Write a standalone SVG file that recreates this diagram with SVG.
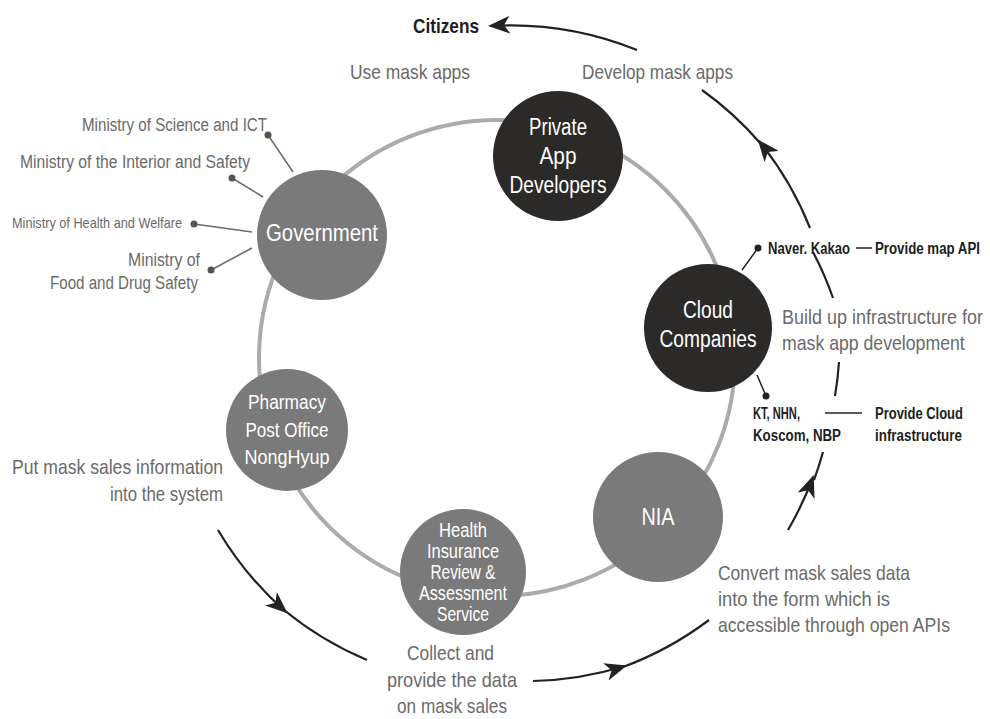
<svg xmlns="http://www.w3.org/2000/svg" width="990" height="719" viewBox="0 0 990 719">
<style>
text{font-family:'Liberation Sans',Arial,sans-serif}
.lbl{fill:#6a6a6a;font-size:21px}
.min{fill:#6a6a6a;font-size:18px}
.blk{fill:#1e1e1e;font-size:16px;font-weight:bold}
.nd{fill:#ffffff;font-size:23px;text-anchor:middle}
.nds{fill:#ffffff;font-size:20px;text-anchor:middle}
.ndh{fill:#ffffff;font-size:19.5px;text-anchor:middle}
.dark{fill:#2b2a29}
.grey{fill:#7a7a7a}
.ring{fill:none;stroke:#ababab;stroke-width:4}
.flow{fill:none;stroke:#222;stroke-width:2.2}
.lead{stroke:#6a6a6a;stroke-width:1.5;fill:none}
.leadk{stroke:#222;stroke-width:1.5;fill:none}
</style>
<defs>
<marker id="ah" viewBox="0 0 22 18" refX="20" refY="9" markerWidth="22" markerHeight="18" markerUnits="userSpaceOnUse" orient="auto">
<path d="M0,0 L22,9 L0,18 L6,9 z" fill="#222"/>
</marker>
</defs>

<circle class="ring" cx="497" cy="358" r="238"/>

<g id="connectors">
<path class="flow" d="M218,530 A336,336 0 0 0 286,612" marker-end="url(#ah)"/>
<path class="flow" d="M284,610 A336,336 0 0 0 367,660"/>
<path class="flow" d="M533,681 A336,336 0 0 0 625,666" marker-end="url(#ah)"/>
<path class="flow" d="M623,667 A336,336 0 0 0 709,620"/>
<path class="flow" d="M788,530 A336,336 0 0 0 813,477" marker-end="url(#ah)"/>
<path class="flow" d="M814,480 A336,336 0 0 0 823,452"/>
<path class="flow" d="M835,396 A336,336 0 0 0 839,362"/>
<path class="flow" d="M833,298 A336,336 0 0 0 813,252"/>
<path class="flow" d="M810,228 A336,336 0 0 0 759,141" marker-end="url(#ah)"/>
<path class="flow" d="M761,144 A336,336 0 0 0 702,90"/>
<path class="flow" d="M637,50 A336,336 0 0 0 490,26" marker-end="url(#ah)"/>
<line class="lead" x1="268" y1="135" x2="293" y2="172"/>
<line class="lead" x1="232" y1="178" x2="263" y2="197"/>
<line class="lead" x1="194" y1="224" x2="252" y2="232"/>
<line class="lead" x1="211" y1="270" x2="252" y2="248"/>
<line class="leadk" x1="758" y1="248" x2="742" y2="270"/>
<line class="leadk" x1="766" y1="396" x2="757" y2="375"/>
<line class="leadk" x1="856" y1="248" x2="872" y2="248"/>
<line class="leadk" x1="825" y1="413" x2="862" y2="413"/>
<circle cx="268" cy="135" r="3.5" fill="#555"/>
<circle cx="232" cy="178" r="3.5" fill="#555"/>
<circle cx="194" cy="224" r="3.5" fill="#555"/>
<circle cx="211" cy="270" r="3.5" fill="#555"/>
<circle cx="758" cy="248" r="3.5" fill="#222"/>
<circle cx="766" cy="396" r="3.5" fill="#222"/>
</g>

<g id="private">
<circle class="dark" cx="558" cy="156" r="65"/>
<text class="nd" x="558" y="135" textLength="58" lengthAdjust="spacingAndGlyphs">Private</text>
<text class="nd" x="558" y="164" textLength="37" lengthAdjust="spacingAndGlyphs">App</text>
<text class="nd" x="558" y="193" textLength="97" lengthAdjust="spacingAndGlyphs">Developers</text>
</g>
<g id="government">
<circle class="grey" cx="322" cy="235" r="65"/>
<text class="nd" x="322" y="241" textLength="112" lengthAdjust="spacingAndGlyphs">Government</text>
</g>
<g id="cloud">
<circle class="dark" cx="708" cy="328" r="64"/>
<text class="nd" x="708" y="318" textLength="50" lengthAdjust="spacingAndGlyphs">Cloud</text>
<text class="nd" x="708" y="347" textLength="97" lengthAdjust="spacingAndGlyphs">Companies</text>
</g>
<g id="pharmacy">
<circle class="grey" cx="287" cy="430" r="61"/>
<text class="nds" x="287" y="409" textLength="78" lengthAdjust="spacingAndGlyphs">Pharmacy</text>
<text class="nds" x="287" y="437" textLength="83" lengthAdjust="spacingAndGlyphs">Post Office</text>
<text class="nds" x="287" y="464" textLength="85" lengthAdjust="spacingAndGlyphs">NongHyup</text>
</g>
<g id="hira">
<circle class="grey" cx="463" cy="572" r="63"/>
<text class="ndh" x="463" y="537" textLength="48" lengthAdjust="spacingAndGlyphs">Health</text>
<text class="ndh" x="463" y="558" textLength="72" lengthAdjust="spacingAndGlyphs">Insurance</text>
<text class="ndh" x="463" y="579" textLength="65" lengthAdjust="spacingAndGlyphs">Review &amp;</text>
<text class="ndh" x="463" y="600" textLength="88" lengthAdjust="spacingAndGlyphs">Assessment</text>
<text class="ndh" x="463" y="621" textLength="52" lengthAdjust="spacingAndGlyphs">Service</text>
</g>
<g id="nia">
<circle class="grey" cx="658" cy="517" r="65"/>
<text class="nd" x="658" y="525" textLength="33" lengthAdjust="spacingAndGlyphs">NIA</text>
</g>

<g id="citizens">
<text x="413" y="33" style="fill:#1e1e1e;font-size:21px;font-weight:bold" textLength="66" lengthAdjust="spacingAndGlyphs">Citizens</text>
</g>
<g id="labels">
<text class="lbl" x="350" y="79" textLength="120" lengthAdjust="spacingAndGlyphs">Use mask apps</text>
<text class="lbl" x="582" y="79" textLength="151" lengthAdjust="spacingAndGlyphs">Develop mask apps</text>
<text class="min" x="82" y="131" textLength="185" lengthAdjust="spacingAndGlyphs">Ministry of Science and ICT</text>
<text class="min" x="20" y="168" textLength="230" lengthAdjust="spacingAndGlyphs">Ministry of the Interior and Safety</text>
<text class="min" x="12" y="228" style="font-size:15px" textLength="170" lengthAdjust="spacingAndGlyphs">Ministry of Health and Welfare</text>
<text class="min" x="128" y="266" textLength="72" lengthAdjust="spacingAndGlyphs">Ministry of</text>
<text class="min" x="50" y="289" textLength="148" lengthAdjust="spacingAndGlyphs">Food and Drug Safety</text>
<text class="blk" transform="translate(768,254) scale(0.82,1)" textLength="100" lengthAdjust="spacingAndGlyphs">Naver. Kakao</text>
<text class="blk" transform="translate(875,254) scale(0.82,1)" textLength="128" lengthAdjust="spacingAndGlyphs">Provide map API</text>
<text class="lbl" transform="translate(782,324) scale(0.85,1)" textLength="236.5" lengthAdjust="spacingAndGlyphs">Build up infrastructure for</text>
<text class="lbl" transform="translate(782,350) scale(0.85,1)" textLength="215" lengthAdjust="spacingAndGlyphs">mask app development</text>
<text class="blk" transform="translate(753,419) scale(0.82,1)" textLength="57.3" lengthAdjust="spacingAndGlyphs">KT, NHN,</text>
<text class="blk" transform="translate(753,441) scale(0.82,1)" textLength="107.3" lengthAdjust="spacingAndGlyphs">Koscom, NBP</text>
<text class="blk" transform="translate(875,419) scale(0.82,1)" textLength="107.3" lengthAdjust="spacingAndGlyphs">Provide Cloud</text>
<text class="blk" transform="translate(875,441) scale(0.82,1)" textLength="106" lengthAdjust="spacingAndGlyphs">infrastructure</text>
<text class="lbl" transform="translate(12,474) scale(0.82,1)" textLength="257.3" lengthAdjust="spacingAndGlyphs">Put mask sales information</text>
<text class="lbl" x="110" y="501" textLength="113" lengthAdjust="spacingAndGlyphs">into the system</text>
<text class="lbl" transform="translate(718,580) scale(0.85,1)" textLength="225.9" lengthAdjust="spacingAndGlyphs">Convert mask sales data</text>
<text class="lbl" transform="translate(718,606) scale(0.85,1)" textLength="202.4" lengthAdjust="spacingAndGlyphs">into the form which is</text>
<text class="lbl" transform="translate(718,632) scale(0.85,1)" textLength="272.9" lengthAdjust="spacingAndGlyphs">accessible through open APIs</text>
<text class="lbl" x="407" y="660" textLength="87" lengthAdjust="spacingAndGlyphs">Collect and</text>
<text class="lbl" x="387" y="687" textLength="130" lengthAdjust="spacingAndGlyphs">provide the data</text>
<text class="lbl" x="397" y="713" textLength="110" lengthAdjust="spacingAndGlyphs">on mask sales</text>
</g>
</svg>
